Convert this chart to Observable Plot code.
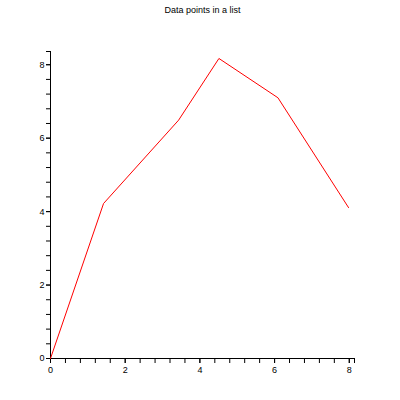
<!DOCTYPE html>
<html>
<head>
<meta charset="utf-8">
<script src="https://cdn.jsdelivr.net/npm/d3@7"></script>
<script src="https://cdn.jsdelivr.net/npm/@observablehq/plot@0.6"></script>
<style>
  html, body { margin: 0; padding: 0; background: white; }
</style>
</head>
<body>
<div id="chart"></div>
<script>
const title = "Data points in a list";
const xs = [0, 1.42, 3.43, 4.51, 6.09, 7.98];
const ys = [0, 4.22, 6.49, 8.17, 7.10, 4.11];
const xTickLabels = [0, 2, 4, 6, 8];
const yTickLabels = [0, 2, 4, 6, 8];
const xMax = 8.14;
const yMax = 8.36;

const data = xs.map((x, i) => ({x, y: ys[i]}));
const minorX = d3.range(0, xMax, 0.4).concat([xMax]);
const minorY = d3.range(0, yMax, 0.4).concat([yMax]);

const chart = Plot.plot({
  width: 400,
  height: 400,
  marginTop: 51,
  marginBottom: 42,
  marginLeft: 50,
  marginRight: 46,
  x: {domain: [0, xMax], label: null},
  y: {domain: [0, yMax], label: null},
  style: {fontFamily: "Liberation Sans, Arial, sans-serif", fontSize: "9px", color: "black", background: "white"},
  marks: [
    Plot.ruleY([0], {stroke: "black"}),
    Plot.ruleX([0], {stroke: "black"}),
    Plot.axisX(minorX, {tickSize: 5, tickFormat: () => "", strokeOpacity: 1, label: null}),
    Plot.axisX(xTickLabels, {tickSize: 5, tickPadding: 3, strokeOpacity: 1, fill: "black", label: null}),
    Plot.axisY(minorY, {tickSize: 4, tickFormat: () => "", strokeOpacity: 1, label: null}),
    Plot.axisY(yTickLabels, {tickSize: 4, tickPadding: 2, strokeOpacity: 1, fill: "black", label: null}),
    Plot.line(data, {x: "x", y: "y", stroke: "#ff0000", strokeWidth: 1}),
    Plot.text([title], {frameAnchor: "top", dy: -44.5, fontSize: 9, fill: "black"})
  ]
});
document.getElementById("chart").appendChild(chart);
</script>
</body>
</html>
